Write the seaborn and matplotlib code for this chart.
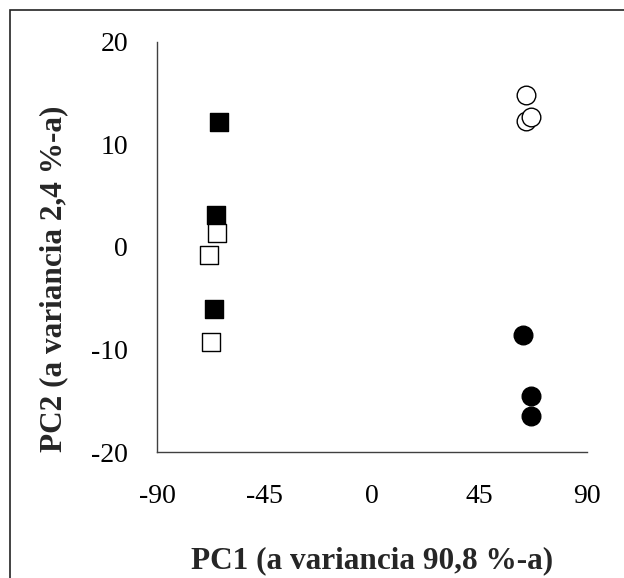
import matplotlib
matplotlib.use("Agg")
import matplotlib.pyplot as plt
import seaborn as sns
import pandas as pd
from matplotlib.patches import Rectangle

# Data
filled_sq_x = [-63.9, -65.3, -66.3]
filled_sq_y = [12.2, 3.1, -6.0]
open_sq_x = [-65.0, -68.2, -67.4]
open_sq_y = [1.4, -0.8, -9.3]
filled_ci_x = [63.2, 66.5, 66.7]
filled_ci_y = [-8.6, -14.5, -16.5]
open_ci_x = [64.6, 64.8, 66.7]
open_ci_y = [12.3, 14.8, 12.7]

x_ticks = [-90, -45, 0, 45, 90]
y_ticks = [-20, -10, 0, 10, 20]
x_label = "PC1 (a variancia 90,8 %-a)"
y_label = "PC2 (a variancia 2,4 %-a)"

sns.set_style("white")
plt.rcParams["font.family"] = ["Liberation Serif", "DejaVu Serif"]

fig = plt.figure(figsize=(6.24, 5.78), dpi=100)
ax = fig.add_axes([0.252, 0.2175, 0.688, 0.7105])

groups = [
    (filled_sq_x, filled_sq_y, "s", "black"),
    (open_sq_x, open_sq_y, "s", "white"),
    (filled_ci_x, filled_ci_y, "o", "black"),
    (open_ci_x, open_ci_y, "o", "white"),
]
for gx, gy, mk, fc in groups:
    df = pd.DataFrame({"x": gx, "y": gy})
    sns.scatterplot(data=df, x="x", y="y", marker=mk, color=fc,
                    edgecolor="black", linewidth=1.0, s=180, ax=ax,
                    clip_on=False, zorder=3)

ax.set_xlim(-90, 90)
ax.set_ylim(-20, 20)
ax.set_xticks(x_ticks)
ax.set_yticks(y_ticks)
ax.set_xticklabels([str(v) for v in x_ticks])
ax.set_yticklabels([str(v) for v in y_ticks])
ax.tick_params(axis="both", direction="out", length=6, width=1.0,
               color="#404040", labelsize=20, labelcolor="black")
ax.tick_params(axis="x", pad=17)
ax.tick_params(axis="y", pad=15)
for side in ["top", "right"]:
    ax.spines[side].set_visible(False)
for side in ["left", "bottom"]:
    ax.spines[side].set_color("#404040")
    ax.spines[side].set_linewidth(1.0)
ax.set_xlabel(x_label, fontsize=22.5, fontweight="bold")
ax.set_ylabel(y_label, fontsize=22.5, fontweight="bold")
ax.xaxis.set_label_coords(0.5, -0.228)
ax.yaxis.set_label_coords(-0.208, 0.422)
ax.grid(False)

# outer border of the chart area
fig.patches.append(Rectangle((10 / 624, -0.05), 1.0, 1 - 10 / 578 + 0.05,
                             transform=fig.transFigure, fill=False,
                             edgecolor="#222222", linewidth=1.2))

fig.savefig("out.png", dpi=100)
